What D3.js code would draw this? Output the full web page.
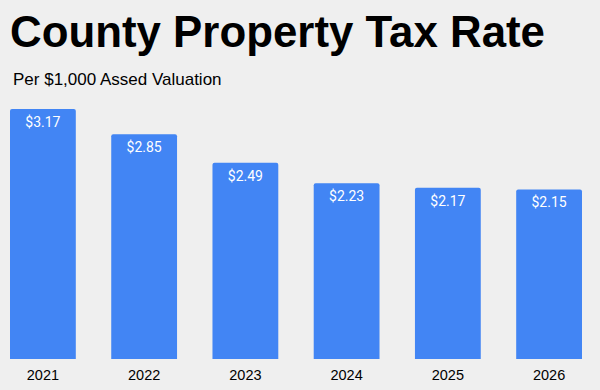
<!DOCTYPE html>
<html>
<head>
<meta charset="utf-8">
<script src="https://cdn.jsdelivr.net/npm/d3@7"></script>
<style>
html,body{margin:0;padding:0;background:#efefef;}
svg{display:block;}
</style>
</head>
<body>
<svg id="chart" width="600" height="390"></svg>
<script>
const years = ["2021","2022","2023","2024","2025","2026"];
const rates = [3.17, 2.85, 2.49, 2.23, 2.17, 2.15];
const title = "County Property Tax Rate";
const subtitle = "Per $1,000 Assed Valuation";

const svg = d3.select("#chart");
svg.append("rect").attr("width",600).attr("height",390).attr("fill","#efefef");

svg.append("text").attr("x",10).attr("y",47)
  .attr("font-family","'Liberation Sans', Arial, sans-serif")
  .attr("font-weight","bold").attr("font-size",45).attr("fill","#000")
  .attr("textLength",535).attr("lengthAdjust","spacingAndGlyphs")
  .text(title);

svg.append("text").attr("x",13).attr("y",85)
  .attr("font-family","'Liberation Sans', Arial, sans-serif")
  .attr("font-size",17).attr("fill","#000")
  .text(subtitle);

const x = d3.scaleBand().domain(years).range([10,582]).paddingInner(0.35).paddingOuter(0);
const y = d3.scaleLinear().domain([0, 3.17]).range([359, 109]);

const data = years.map((yr,i)=>({year:yr, value:rates[i]}));

const r = 2;
svg.append("g").selectAll("path").data(data).join("path")
  .attr("fill","#4285f4")
  .attr("d", d=>{
    const x0 = x(d.year), w = x.bandwidth(), t = y(d.value), b = y(0);
    return `M${x0},${b}V${t+r}Q${x0},${t} ${x0+r},${t}H${x0+w-r}Q${x0+w},${t} ${x0+w},${t+r}V${b}Z`;
  });

svg.append("g").selectAll("text").data(data).join("text")
  .attr("x", d=>x(d.year)+x.bandwidth()/2)
  .attr("y", d=>y(d.value)+18)
  .attr("text-anchor","middle")
  .attr("font-family","Roboto, sans-serif")
  .attr("font-size",14).attr("fill","#fff")
  .text(d=>"$"+d.value.toFixed(2));

const axis = d3.axisBottom(x).tickSize(0).tickPadding(0);
const gx = svg.append("g").attr("transform","translate(0,380)").call(axis);
gx.select(".domain").remove();
gx.selectAll("text")
  .attr("dy","0")
  .attr("font-family","'Liberation Sans', Arial, sans-serif")
  .attr("font-size",14.5).attr("fill","#000");
</script>
</body>
</html>
